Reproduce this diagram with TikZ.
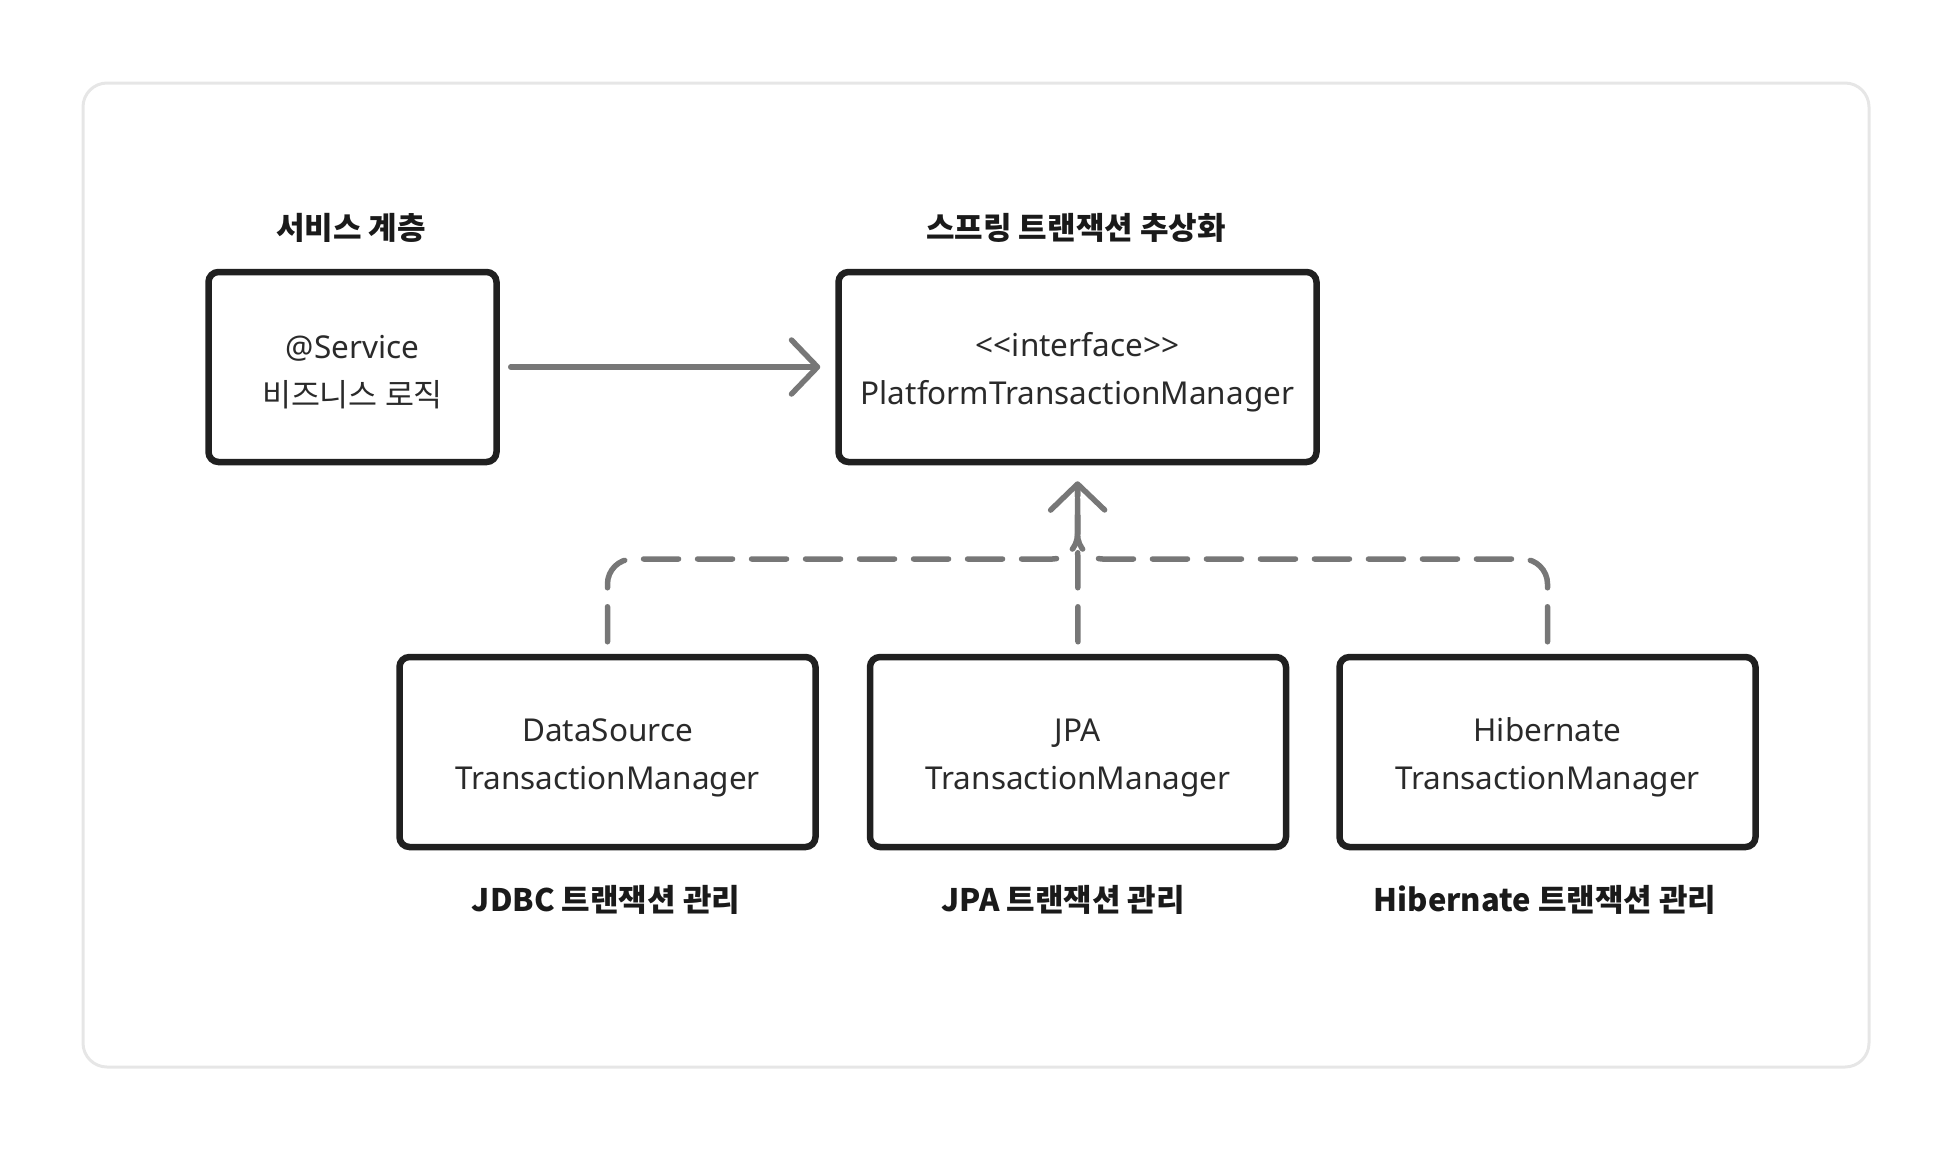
\documentclass[tikz,border=0pt]{standalone}
\usepackage{fontspec}
\setmainfont{Noto Sans}
\newfontfamily\kr{Noto Sans CJK KR}
\usetikzlibrary{arrows.meta}
\definecolor{boxline}{HTML}{202020}
\definecolor{conncol}{HTML}{777777}
\definecolor{framecol}{HTML}{E6E6E6}
\definecolor{txtcol}{HTML}{2A2A2A}
\definecolor{ttlcol}{HTML}{1A1A1A}
\newcommand\bxlift{\rule{0pt}{34pt}}
\begin{document}
\begin{tikzpicture}[x=1pt,y=-1pt,
  box/.style={draw=boxline, line width=6.5pt, rounded corners=10pt, minimum height=190pt,
    inner sep=0pt, align=center, text=txtcol, font=\fontsize{31.5}{48}\selectfont},
  ttl/.style={text=ttlcol, inner sep=0pt, font=\fontsize{31}{36}\selectfont\kr\bfseries},
  conn/.style={draw=conncol, line width=5.5pt, line cap=round, line join=round},
  dsh/.style={conn, dash pattern=on 35pt off 19pt},
  tipend/.style={-{Straight Barb[length=26pt, width=54pt, round]}}
]
\useasboundingbox (0,0) rectangle (1952,1152);
\draw[framecol, line width=3pt, rounded corners=24pt] (83,83) rectangle (1869,1067);

\node[box, minimum width=288pt] (svc) at (352.5,367) {\bxlift@Service\\{\kr 비즈니스 로직}};
\node[box, minimum width=478pt] (plat) at (1077.5,367) {\bxlift<\kern0pt<interface>\kern0pt>\\PlatformTransactionManager};

\node[box, minimum width=416pt] (jdbc) at (607.5,752) {\bxlift DataSource\\TransactionManager};
\node[box, minimum width=416pt] (jpa) at (1078,752) {\bxlift JPA\\TransactionManager};
\node[box, minimum width=416pt] (hib) at (1547.5,752) {\bxlift Hibernate\\TransactionManager};

\node[ttl] (t1) at (351,228) {서비스 계층};
\node[ttl] (t2) at (1076,228) {스프링 트랜잭션 추상화};
\node[ttl] (l1) at (606,900) {JDBC 트랜잭션 관리};
\node[ttl] (l2) at (1063,900) {JPA 트랜잭션 관리};
\node[ttl] (l3) at (1545,900) {Hibernate 트랜잭션 관리};

\coordinate (hl) at (0,559);

\draw[conn, tipend, shorten <=11pt, shorten >=15pt] (svc.east) -- (plat.west);

\draw[dsh, rounded corners=25pt, shorten <=12pt, shorten >=24pt] (jdbc.north) -- (jdbc.north |- hl) -- (plat.south |- hl) -- (plat.south);
\draw[dsh, rounded corners=25pt, shorten <=12pt, shorten >=24pt] (hib.north) -- (hib.north |- hl) -- (plat.south |- hl) -- (plat.south);
\draw[dsh, tipend, shorten <=12pt, shorten >=16pt] (jpa.north) -- (plat.south);
\end{tikzpicture}
\end{document}
